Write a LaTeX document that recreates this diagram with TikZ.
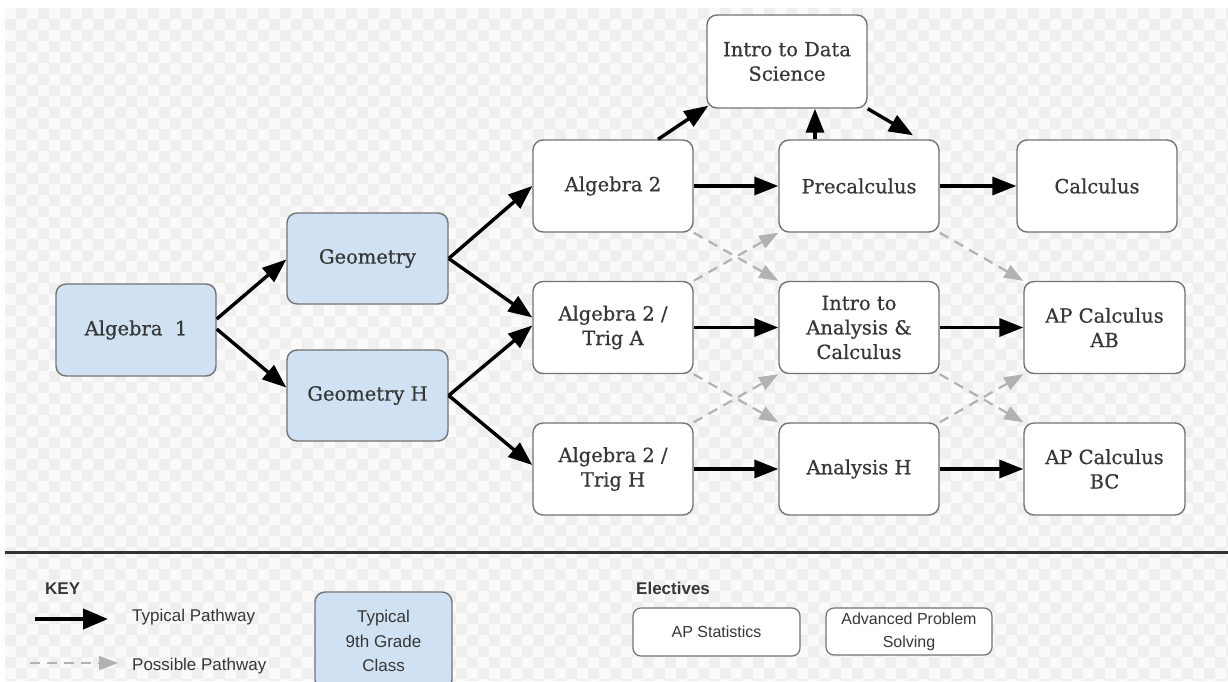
\documentclass[tikz,border=0pt]{standalone}
\usepackage{fontspec}
\setmainfont{DejaVu Serif}
\newfontfamily\coursefont{DejaVu Serif}[FakeBold=0.6]
\newfontfamily\keyfont{Liberation Sans}
\usetikzlibrary{arrows.meta,calc}
\definecolor{bgA}{RGB}{250,250,250}
\definecolor{bgB}{RGB}{239,239,239}
\definecolor{boxblue}{RGB}{207,225,242}
\definecolor{boxline}{RGB}{115,115,115}
\definecolor{txt}{RGB}{55,55,55}
\definecolor{pathgray}{RGB}{178,178,178}
\tikzset{
  course/.style={draw=boxline, line width=1.4pt, rounded corners=10pt, fill=white,
    minimum width=160pt, minimum height=92pt, align=center, text=txt,
    font=\coursefont\fontsize{19.5}{24.5}\selectfont, inner sep=1pt},
  ninth/.style={course, fill=boxblue},
  typ/.style={line width=3.4pt, black, -{Triangle[length=24pt,width=18pt]}},
  poss/.style={line width=2.2pt, pathgray, dash pattern=on 10pt off 7pt,
    -{Triangle[length=19pt,width=14pt]}},
  keytext/.style={font=\keyfont\fontsize{17}{24.5}\selectfont, text=txt, inner sep=0pt},
  elective/.style={draw=boxline, line width=1.2pt, rounded corners=8pt, fill=white,
    minimum width=166pt, minimum height=47pt, align=center, text=txt, inner sep=1pt,
    font=\keyfont\fontsize{16}{23}\selectfont},
}
\begin{document}
\begin{tikzpicture}[x=1pt,y=-1pt]
\clip (0,0) rectangle (1228,681);
\fill[white] (0,0) rectangle (1228,681);
\fill[bgA] (5,8) rectangle (1228,681);
\fill[bgB,even odd rule]
  \foreach \i in {0,...,55} {(5+22*\i,8) rectangle (16+22*\i,681)}
  \foreach \j in {0,...,30} {(5,8+22*\j) rectangle (1228,19+22*\j)};

% courses
\node[ninth] (alg1) at (136,330) {Algebra\ \ 1};
\node[ninth, minimum width=161pt, minimum height=91pt] (geo) at (367.5,258.5) {Geometry};
\node[ninth, minimum width=161pt, minimum height=91pt] (geoh) at (367.5,395.5) {Geometry H};
\node[course] (alg2) at (613,186) {Algebra 2};
\node[course] (trigA) at (613,327.5) {Algebra 2 /\\Trig A};
\node[course] (trigH) at (613,469) {Algebra 2 /\\Trig H};
\node[course, minimum height=93pt] (ids) at (787,61.5) {Intro to Data\\Science};
\node[course] (pre) at (859,186) {Precalculus};
\node[course] (intro) at (859,327.5) {Intro to\\Analysis \&\\Calculus};
\node[course] (anh) at (859,469) {Analysis H};
\node[course] (calc) at (1097,186) {Calculus};
\node[course, minimum width=161pt] (apab) at (1104.5,327.5) {AP Calculus\\AB};
\node[course, minimum width=161pt] (apbc) at (1104.5,469) {AP Calculus\\BC};

% possible pathways
\draw[poss] (alg2.south east) -- (intro.north west);
\draw[poss] (trigA.north east) -- (pre.south west);
\draw[poss] (trigA.south east) -- (anh.north west);
\draw[poss] (trigH.north east) -- (intro.south west);
\draw[poss] (pre.south east) -- (apab.north west);
\draw[poss] (intro.south east) -- (apbc.north west);
\draw[poss] (anh.north east) -- (apab.south west);

% typical pathways
\draw[typ] ($(alg1.east)+(0,-11)$) -- ($(geo.west)+(0,1)$);
\draw[typ] ($(alg1.east)+(0,-1)$) -- ($(geoh.west)+(0,-8)$);
\draw[typ] (geo.east) -- (alg2.west);
\draw[typ] (geo.east) -- ($(trigA.west)+(0,-10)$);
\draw[typ] (geoh.east) -- ($(trigA.west)+(0,-2)$);
\draw[typ] (geoh.east) -- ($(trigH.west)+(0,-4)$);
\draw[typ] ($(alg2.north)+(45,0)$) -- ($(ids.south west)+(2,-3)$);
\draw[typ] ($(pre.north)+(-44,0)$) -- ($(ids.south)+(28,0)$);
\draw[typ] (ids.south east) -- ($(pre.north)+(54,-4)$);
\draw[typ] (alg2.east) -- (pre.west);
\draw[typ] (pre.east) -- (calc.west);
\draw[typ] (trigA.east) -- (intro.west);
\draw[typ] (intro.east) -- (apab.west);
\draw[typ] (trigH.east) -- (anh.west);
\draw[typ] (anh.east) -- (apbc.west);

% separator
\coordinate (sepL) at (5,552);
\coordinate (sepR) at (1228,552);
\draw[line width=3pt, black!80] (sepL) -- (sepR);

% key
\node[keytext, font=\keyfont\bfseries\fontsize{17}{20}\selectfont, anchor=west] (key) at (45,589) {KEY};
\coordinate (ta1) at (35,619);
\coordinate (ta2) at (108,619);
\draw[line width=4pt, black, -{Triangle[length=25pt,width=20pt]}] (ta1) -- (ta2);
\node[keytext, anchor=west] (typtxt) at (132,617) {Typical Pathway};
\coordinate (pa1) at (30,663);
\coordinate (pa2) at (118,663);
\draw[poss] (pa1) -- (pa2);
\node[keytext, anchor=west] (posstxt) at (132,666) {Possible Pathway};
\node[ninth, font=\keyfont\fontsize{17}{24.5}\selectfont, minimum width=137pt, minimum height=98pt] (ninthkey) at (383.5,641) {Typical\\9th Grade\\Class};

% electives
\node[keytext, font=\keyfont\bfseries\fontsize{17}{20}\selectfont, anchor=west] (elec) at (636,588) {Electives};
\node[elective, minimum width=167pt, minimum height=48pt] (apstat) at (716.5,632) {AP Statistics};
\node[elective] (aps) at (909,631.5) {Advanced Problem\\Solving};
\end{tikzpicture}
\end{document}
